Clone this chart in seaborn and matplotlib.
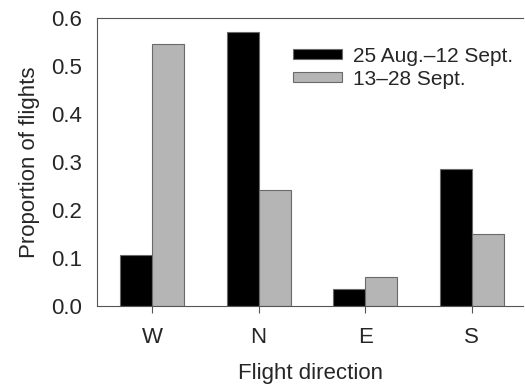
import pandas as pd
import matplotlib.pyplot as plt
import seaborn as sns

# data
directions = ["W", "N", "E", "S"]
early = [0.106, 0.571, 0.035, 0.285]   # 25 Aug.-12 Sept.
late = [0.546, 0.242, 0.060, 0.150]    # 13-28 Sept.
periods = ["25 Aug.\u201312 Sept.", "13\u201328 Sept."]

df = pd.DataFrame({
    "direction": directions * 2,
    "proportion": early + late,
    "period": [periods[0]] * 4 + [periods[1]] * 4,
})

sns.set_style("ticks")
plt.rcParams['font.family'] = ['Liberation Sans', 'DejaVu Sans']

fig = plt.figure(figsize=(5.25, 3.84), dpi=100)
ax = fig.add_axes([0.185, 0.203, 0.811, 0.750])

sns.barplot(data=df, x="direction", y="proportion", hue="period",
            palette=["black", "#b5b5b5"], width=0.6, gap=0,
            edgecolor="#6a6a6a", linewidth=0.8, ax=ax)

ax.set_ylim(0, 0.6)
ax.set_xlim(-0.514, 3.48)
ax.set_yticks([0, 0.1, 0.2, 0.3, 0.4, 0.5, 0.6])
ax.set_yticklabels(["0.0", "0.1", "0.2", "0.3", "0.4", "0.5", "0.6"])
ax.tick_params(axis="both", labelsize=16, width=0.8, color="#555555")
ax.tick_params(axis="x", length=5, pad=10)
ax.tick_params(axis="y", length=0, pad=11)
ax.set_xlabel("Flight direction", fontsize=16, labelpad=11)
ax.set_ylabel("Proportion of flights", fontsize=16, labelpad=8)

for s in ["left", "bottom", "top"]:
    ax.spines[s].set_color("#555555")
    ax.spines[s].set_linewidth(0.8)
ax.spines["right"].set_visible(False)

ax.legend(loc="upper right", bbox_to_anchor=(0.996, 0.93), frameon=False,
          fontsize=15, handlelength=2.35, handleheight=0.38,
          handletextpad=0.5, labelspacing=0.2, borderaxespad=0)

fig.savefig("out.png", dpi=100)
